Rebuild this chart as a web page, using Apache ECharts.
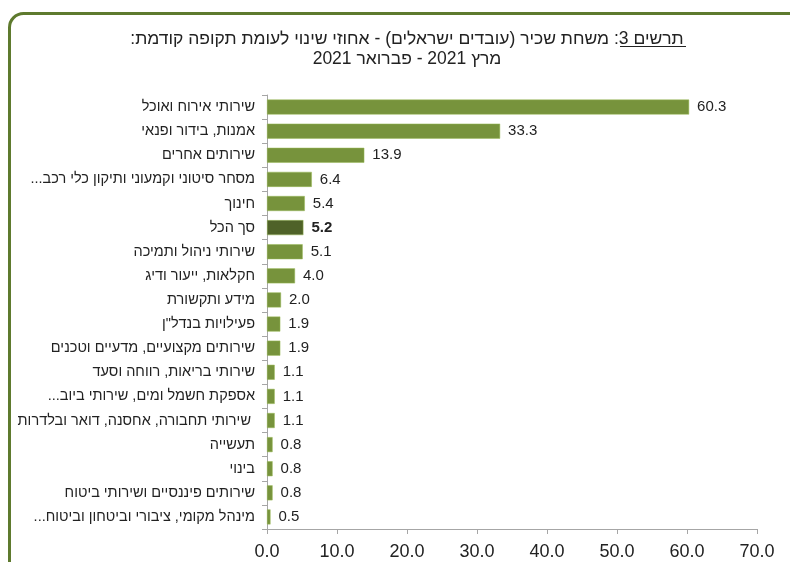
<!DOCTYPE html>
<html>
<head>
<meta charset="utf-8">
<script src="https://cdn.jsdelivr.net/npm/echarts@6/dist/echarts.min.js"></script>
<style>
    html, body { margin: 0; padding: 0; background: #fff; }
    #container { width: 790px; height: 562px; direction: rtl; }
</style>
</head>
<body>
<div id="container"></div>
<script>
    var categories = [
        'שירותי אירוח ואוכל',
        'אמנות, בידור ופנאי',
        'שירותים אחרים',
        'מסחר סיטוני וקמעוני ותיקון כלי רכב...',
        'חינוך',
        'סך הכל',
        'שירותי ניהול ותמיכה',
        'חקלאות, ייעור ודיג',
        'מידע ותקשורת',
        'פעילויות בנדל"ן',
        'שירותים מקצועיים, מדעיים וטכנים',
        'שירותי בריאות, רווחה וסעד',
        'אספקת חשמל ומים, שירותי ביוב...',
        ' שירותי תחבורה, אחסנה, דואר ובלדרות',
        'תעשייה',
        'בינוי',
        'שירותים פיננסיים ושירותי ביטוח',
        'מינהל מקומי, ציבורי וביטחון וביטוח...'
    ];
    var values = [60.3, 33.3, 13.9, 6.4, 5.4, 5.2, 5.1, 4.0, 2.0, 1.9, 1.9, 1.1, 1.1, 1.1, 0.8, 0.8, 0.8, 0.5];
    var totalName = 'סך הכל';

    var titleLine1 = 'תרשים 3: משחת שכיר (עובדים ישראלים) - אחוזי שינוי לעומת תקופה קודמת:';
    var titleLine2 = 'מרץ 2021 - פברואר 2021';

    var barColor = '#77933C';
    var totalColor = '#4F6228';

    var dom = document.getElementById('container');
    var myChart = echarts.init(dom, null, { renderer: 'canvas' });

    var data = values.map(function (v, i) {
        var isTotal = categories[i] === totalName;
        return {
            value: v,
            itemStyle: { color: isTotal ? totalColor : barColor },
            label: { fontWeight: isTotal ? 'bold' : 'normal' }
        };
    });

    var option = {
        animation: false,
        textStyle: { fontFamily: '"Liberation Sans", Arial, sans-serif' },
        title: {
            text: titleLine1 + '\n' + titleLine2,
            left: 402,
            top: 24,
            textAlign: 'center',
            textStyle: {
                fontSize: 17.5,
                fontWeight: 'normal',
                color: '#222',
                lineHeight: 20,
                fontFamily: '"Liberation Sans", Arial, sans-serif'
            }
        },
        graphic: [
            {
                type: 'rect',
                shape: { x: 9.5, y: 13.5, width: 820, height: 620, r: 14 },
                style: { fill: 'none', stroke: '#5E7A2E', lineWidth: 3 },
                silent: true
            },
            {
                type: 'line',
                shape: { x1: 620, y1: 46.5, x2: 686, y2: 46.5 },
                style: { stroke: '#222', lineWidth: 1 },
                silent: true
            }
        ],
        grid: { left: 267, right: 33, top: 95, bottom: 33, containLabel: false },
        xAxis: {
            type: 'value',
            min: 0,
            max: 70,
            interval: 10,
            axisLine: { show: true, lineStyle: { color: '#A6A6A6' } },
            axisTick: { show: true, length: 5, lineStyle: { color: '#A6A6A6' } },
            splitLine: { show: false },
            axisLabel: {
                margin: 14,
                fontSize: 18,
                color: '#222',
                formatter: function (v) { return v.toFixed(1); }
            }
        },
        yAxis: {
            type: 'category',
            inverse: true,
            data: categories,
            axisLine: { show: true, lineStyle: { color: '#A6A6A6' } },
            axisTick: { show: true, length: 5, lineStyle: { color: '#A6A6A6' } },
            axisLabel: { margin: 12, fontSize: 14.5, color: '#222' }
        },
        series: [
            {
                type: 'bar',
                data: data,
                barWidth: 15,
                itemStyle: { borderColor: '#9BBB59', borderWidth: 0.5 },
                label: {
                    show: true,
                    position: 'right',
                    distance: 8,
                    fontSize: 15,
                    color: '#222',
                    formatter: function (p) { return p.value.toFixed(1); }
                }
            }
        ]
    };

    myChart.setOption(option);
    window.addEventListener('resize', myChart.resize);
</script>
</body>
</html>
